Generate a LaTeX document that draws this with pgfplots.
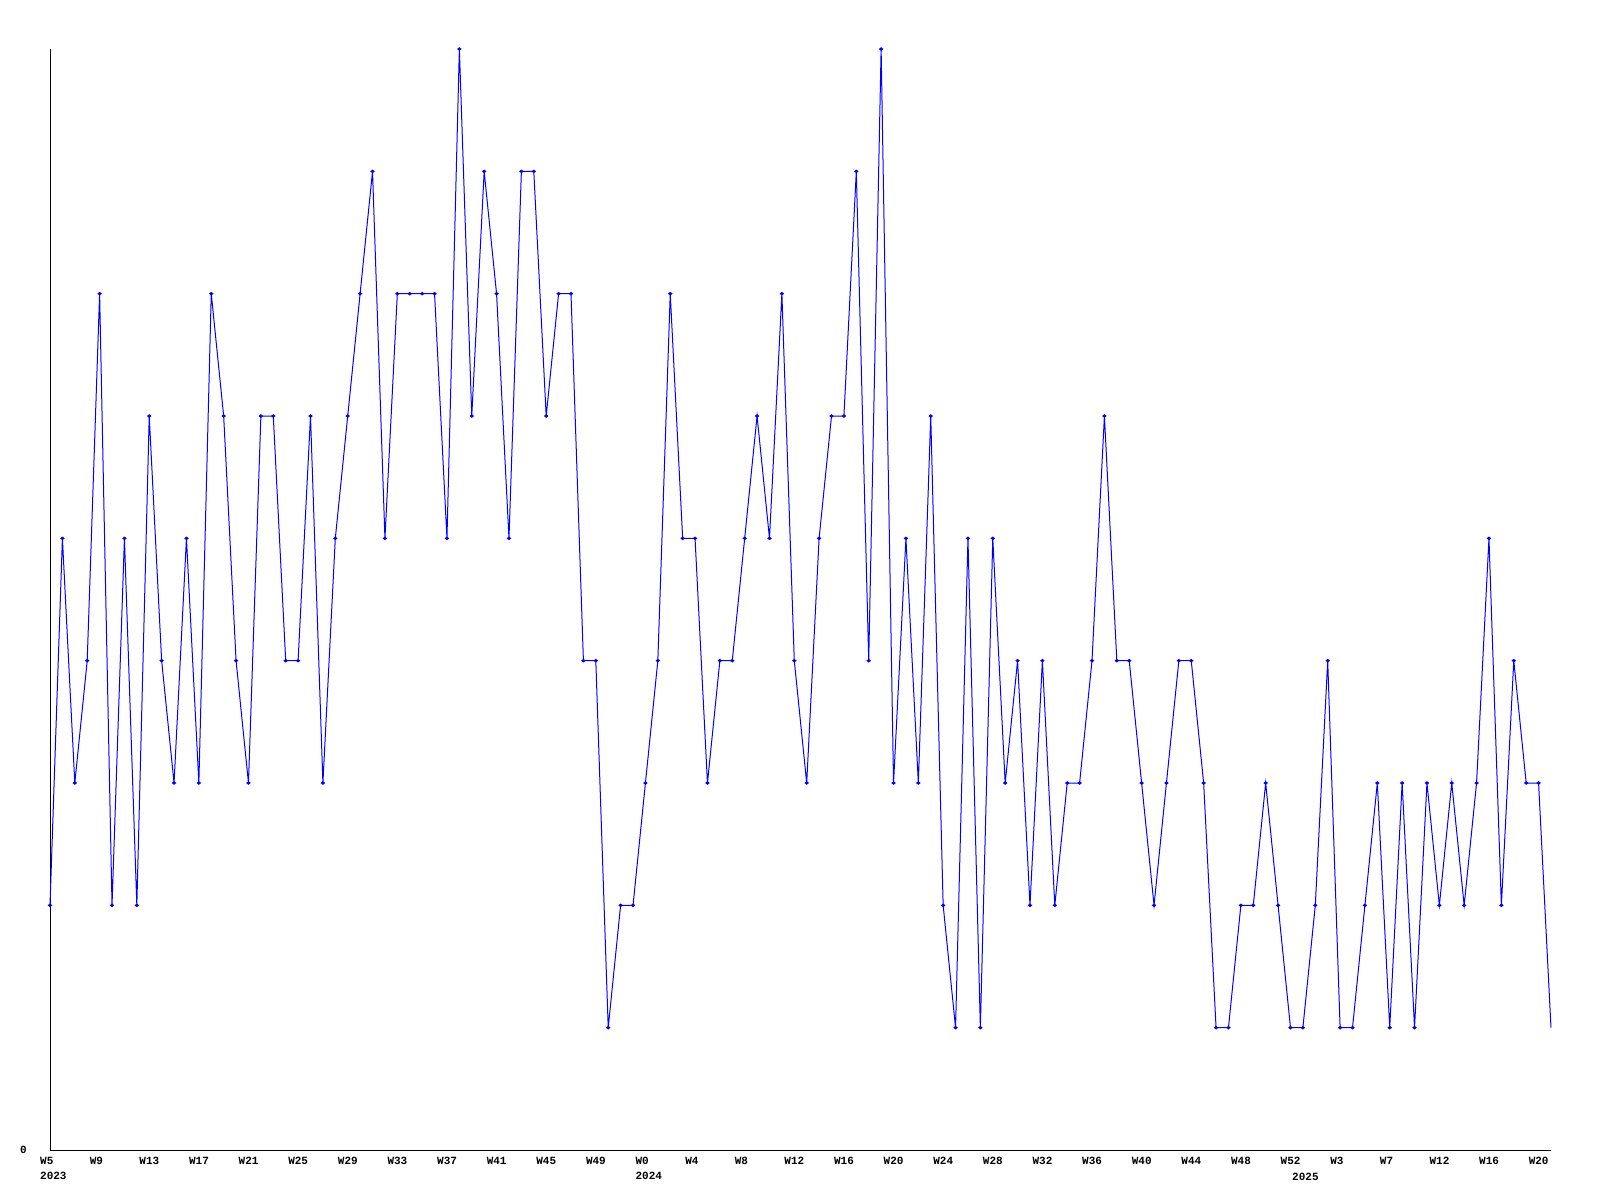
\documentclass[border=0pt]{standalone}
\usepackage{pgfplots}
\pgfplotsset{compat=1.18}
\usepackage{pgfplotstable}
\usepackage{fontspec}
\setmainfont{Liberation Mono}
\setmonofont{Liberation Mono}

\pgfplotstableread{
idx val
0 2
1 5
2 3
3 4
4 7
5 2
6 5
7 2
8 6
9 4
10 3
11 5
12 3
13 7
14 6
15 4
16 3
17 6
18 6
19 4
20 4
21 6
22 3
23 5
24 6
25 7
26 8
27 5
28 7
29 7
30 7
31 7
32 5
33 9
34 6
35 8
36 7
37 5
38 8
39 8
40 6
41 7
42 7
43 4
44 4
45 1
46 2
47 2
48 3
49 4
50 7
51 5
52 5
53 3
54 4
55 4
56 5
57 6
58 5
59 7
60 4
61 3
62 5
63 6
64 6
65 8
66 4
67 9
68 3
69 5
70 3
71 6
72 2
73 1
74 5
75 1
76 5
77 3
78 4
79 2
80 4
81 2
82 3
83 3
84 4
85 6
86 4
87 4
88 3
89 2
90 3
91 4
92 4
93 3
94 1
95 1
96 2
97 2
98 3
99 2
100 1
101 1
102 2
103 4
104 1
105 1
106 2
107 3
108 1
109 3
110 1
111 3
112 2
113 3
114 2
115 3
116 5
117 2
118 4
119 3
120 3
121 1
}\weekly

\begin{document}
\begin{tikzpicture}
\path[use as bounding box] (0,0) rectangle (1600bp,1200bp);
\begin{axis}[
  at={(50bp,50bp)}, anchor=south west,
  scale only axis,
  width=1501bp, height=1101bp,
  xmin=0, xmax=121, ymin=0, ymax=9,
  axis lines=left,
  axis line style={-, black, line width=1bp},
  clip=false,
  major tick length=0pt,
  ytick={0},
  yticklabels={0},
  xtick={0,4,...,120},
  xticklabels={{W5\\2023},W9,W13,W17,W21,W25,W29,W33,W37,W41,W45,W49,
    {W0\\2024},W4,W8,W12,W16,W20,W24,W28,W32,W36,W40,W44,W48,W52,
    W3,W7,W12,W16,W20},
  every tick label/.append style={font=\fontsize{11bp}{15bp}\selectfont\bfseries},
  xticklabel style={anchor=north west, align=left, inner sep=0pt, xshift=-10bp, yshift=-7bp},
  yticklabel style={anchor=east, inner sep=0pt, xshift=-23bp},
]
\addplot[blue, line width=1bp, mark=diamond*, mark size=2bp,
  mark options={yscale=0.6}, mark indices={1,...,121}]
  table[x=idx, y=val] {\weekly};
\end{axis}
\node[anchor=north west, inner sep=0pt, font=\fontsize{11bp}{15bp}\selectfont\bfseries]
  at (1292bp,1200bp-1173bp) {2025};
\end{tikzpicture}
\end{document}
